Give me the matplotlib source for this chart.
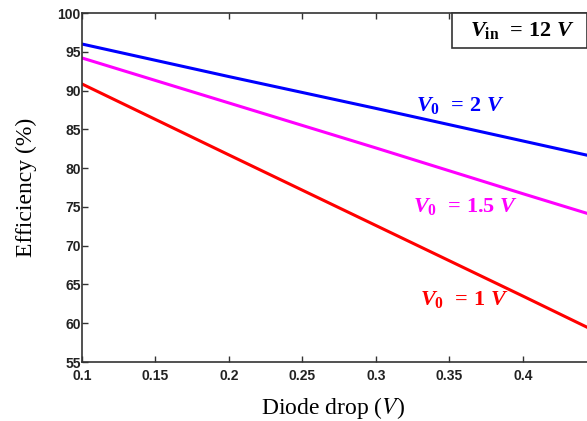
import matplotlib
matplotlib.use('Agg')
import matplotlib.pyplot as plt
from matplotlib.patches import Rectangle

# diode drop values (V) and efficiency (%) for each output voltage
diode_drop = [0.1, 0.2, 0.3, 0.4, 0.45]
eff_2v = [96.0, 91.8, 87.7, 83.5, 81.4]
eff_15v = [94.2, 88.4, 82.6, 76.7, 73.8]
eff_1v = [90.85, 81.7, 72.6, 63.5, 58.9]

x_ticks = [0.1, 0.15, 0.2, 0.25, 0.3, 0.35, 0.4]
x_tick_labels = ['0.1', '0.15', '0.2', '0.25', '0.3', '0.35', '0.4']
y_ticks = [55, 60, 65, 70, 75, 80, 85, 90, 95, 100]

plt.rcParams['mathtext.fontset'] = 'custom'
plt.rcParams['mathtext.it'] = 'Liberation Serif:italic:bold'
plt.rcParams['mathtext.rm'] = 'Liberation Serif:bold'
plt.rcParams['mathtext.bf'] = 'Liberation Serif:bold'

fig = plt.figure(figsize=(5.87, 4.21), dpi=100)
ax = fig.add_axes([0.1397, 0.1401, 0.8603, 0.829])

ax.plot(diode_drop, eff_2v, color='#0000ff', lw=2.2)
ax.plot(diode_drop, eff_15v, color='#ff00ff', lw=2.2)
ax.plot(diode_drop, eff_1v, color='#ff0000', lw=2.2)

ax.set_xlim(0.1, 0.4436)
ax.set_ylim(55, 100)
ax.set_xticks(x_ticks)
ax.set_xticklabels(x_tick_labels)
ax.set_yticks(y_ticks)
for lab in ax.get_xticklabels() + ax.get_yticklabels():
    lab.set_family('Liberation Sans')
    lab.set_fontweight('bold')
    lab.set_fontsize(10)
    lab.set_color('#222222')
ax.tick_params(direction='in', length=4, width=1, top=True, color='#333333', pad=1)
ax.tick_params(axis='x', pad=5)
for s in ['left', 'bottom', 'top']:
    ax.spines[s].set_color('#333333')
    ax.spines[s].set_linewidth(1.2)
ax.spines['right'].set_visible(False)

fig.text(0.567, 0.031, r'Diode drop ($\mathit{V}$)', fontsize=17, family='Liberation Serif',
         ha='center', va='center', math_fontfamily='stix')
fig.text(0.045, 0.556, 'Efficiency (%)', fontsize=17, family='Liberation Serif',
         rotation=90, ha='center', va='center')

ax.text(0.3275, 88.1, r'$V_0\;\,=\,2\ V$', color='#0000ff', fontsize=16, va='center')
ax.text(0.3255, 75.0, r'$V_0\;\,=\,1.5\ V$', color='#ff00ff', fontsize=16, va='center')
ax.text(0.330, 63.0, r'$V_0\;\,=\,1\ V$', color='#ff0000', fontsize=16, va='center')

ax.add_patch(Rectangle((0.7327, 0.8997), 0.2673, 0.1003, transform=ax.transAxes,
                       fc='white', ec='#333333', lw=1.2, zorder=5, clip_on=False))
ax.text(0.8715, 0.95, r'$V_{\mathrm{in}}\;\,=\,12\ V$', color='black', fontsize=16,
        ha='center', va='center', transform=ax.transAxes, zorder=6)

fig.savefig('out.png', dpi=100)
